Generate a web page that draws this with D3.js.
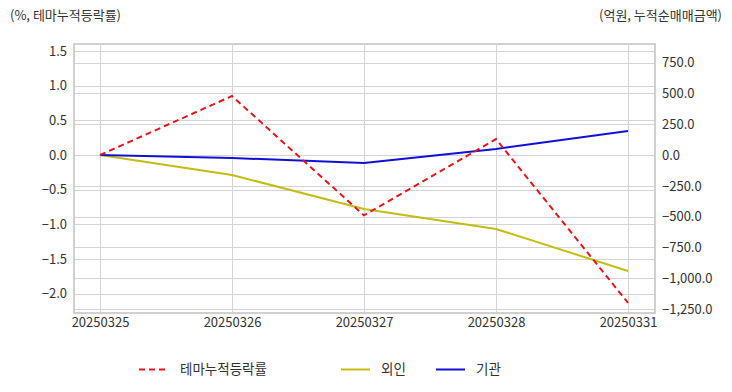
<!DOCTYPE html>
<html><head><meta charset="utf-8">
<script src="https://cdn.jsdelivr.net/npm/d3@7"></script>
<style>body{margin:0;background:#fff;}svg{display:block;font-family:"Noto Sans CJK KR","Noto Sans",sans-serif;}</style>
</head><body><svg id="c" width="732" height="392"></svg>
<script>
const categories = ["20250325","20250326","20250327","20250328","20250331"];
const themeRate = [0, 0.85, -0.87, 0.23, -2.13];
const foreign = [0, -162, -438, -600, -941];
const institution = [0, -24, -65, 49, 195];
const leftTicks = [1.5, 1.0, 0.5, 0.0, -0.5, -1.0, -1.5, -2.0];
const rightTicks = [750, 500, 250, 0, -250, -500, -750, -1000, -1250];
const seriesNames = ["테마누적등락률", "외인", "기관"];
const colors = ["#e8141a", "#c4bd12", "#1010d8"];

const svg = d3.select("#c");
const L = 74, R = 655, T = 44, B = 313;
const x = d3.scalePoint().domain(categories).range([100, 628]);
const yL = d3.scaleLinear().domain([-2.277, 1.6]).range([B, T]);
const yR = d3.scaleLinear().domain([-1282, 901]).range([B, T]);

// gridlines
const g = svg.append("g");
g.selectAll(".gl").data(leftTicks).enter().append("line")
  .attr("x1", L).attr("x2", R).attr("y1", d => Math.round(yL(d)) + 0.5).attr("y2", d => Math.round(yL(d)) + 0.5)
  .attr("stroke", "#d4d4d4").attr("stroke-width", 1);
g.selectAll(".gr").data(rightTicks).enter().append("line")
  .attr("x1", L).attr("x2", R).attr("y1", d => Math.round(yR(d)) + 0.5).attr("y2", d => Math.round(yR(d)) + 0.5)
  .attr("stroke", "#d4d4d4").attr("stroke-width", 1);
g.selectAll(".gv").data(categories).enter().append("line")
  .attr("x1", d => Math.round(x(d)) + 0.5).attr("x2", d => Math.round(x(d)) + 0.5).attr("y1", T).attr("y2", B)
  .attr("stroke", "#d4d4d4").attr("stroke-width", 1);
svg.append("rect").attr("x", L).attr("y", T).attr("width", R - L).attr("height", B - T)
  .attr("fill", "none").attr("stroke", "#d0d0d0").attr("stroke-width", 2);

// axes
const axL = d3.axisLeft(yL).tickValues(leftTicks).tickFormat(d3.format(".1f")).tickSize(0).tickPadding(6);
const axR = d3.axisRight(yR).tickValues(rightTicks).tickFormat(d3.format(",.1f")).tickSize(0).tickPadding(6);
const axB = d3.axisBottom(x).tickSize(0).tickPadding(5);
const styleAxis = s => { s.select(".domain").remove(); s.selectAll("text").attr("fill", "#333").style("font-size", "13px").style("font-family", '"Noto Sans CJK KR",sans-serif'); };
svg.append("g").attr("transform", `translate(${L - 1},0)`).call(axL).call(styleAxis);
svg.append("g").attr("transform", `translate(${R + 1},0)`).call(axR).call(styleAxis);
svg.append("g").attr("transform", `translate(0,${B})`).call(axB).call(styleAxis);

// lines
const lineL = d3.line().x((d, i) => x(categories[i])).y(d => yL(d));
const lineR = d3.line().x((d, i) => x(categories[i])).y(d => yR(d));
svg.append("path").attr("d", lineR(foreign)).attr("fill", "none").attr("stroke", colors[1]).attr("stroke-width", 2);
svg.append("path").attr("d", lineR(institution)).attr("fill", "none").attr("stroke", colors[2]).attr("stroke-width", 2);
svg.append("path").attr("d", lineL(themeRate)).attr("fill", "none").attr("stroke", colors[0]).attr("stroke-width", 2).attr("stroke-dasharray", "6,4");

// axis titles
svg.append("text").attr("x", 10).attr("y", 20).text("(%, 테마누적등락률)").attr("fill", "#333").style("font-size", "13px");
svg.append("text").attr("x", 722).attr("y", 20).attr("text-anchor", "end").text("(억원, 누적순매매금액)").attr("fill", "#333").style("font-size", "13px");

// legend
const leg = [{x: 139, tx: 180}, {x: 341, tx: 381}, {x: 436, tx: 476}];
leg.forEach((l, i) => {
  svg.append("line").attr("x1", l.x).attr("x2", l.x + 29).attr("y1", 369.5).attr("y2", 369.5)
    .attr("stroke", colors[i]).attr("stroke-width", 2).attr("stroke-dasharray", i === 0 ? "6,4" : null);
  svg.append("text").attr("x", l.tx).attr("y", 374).text(seriesNames[i]).attr("fill", "#333").style("font-size", "13.5px");
});
</script></body></html>
